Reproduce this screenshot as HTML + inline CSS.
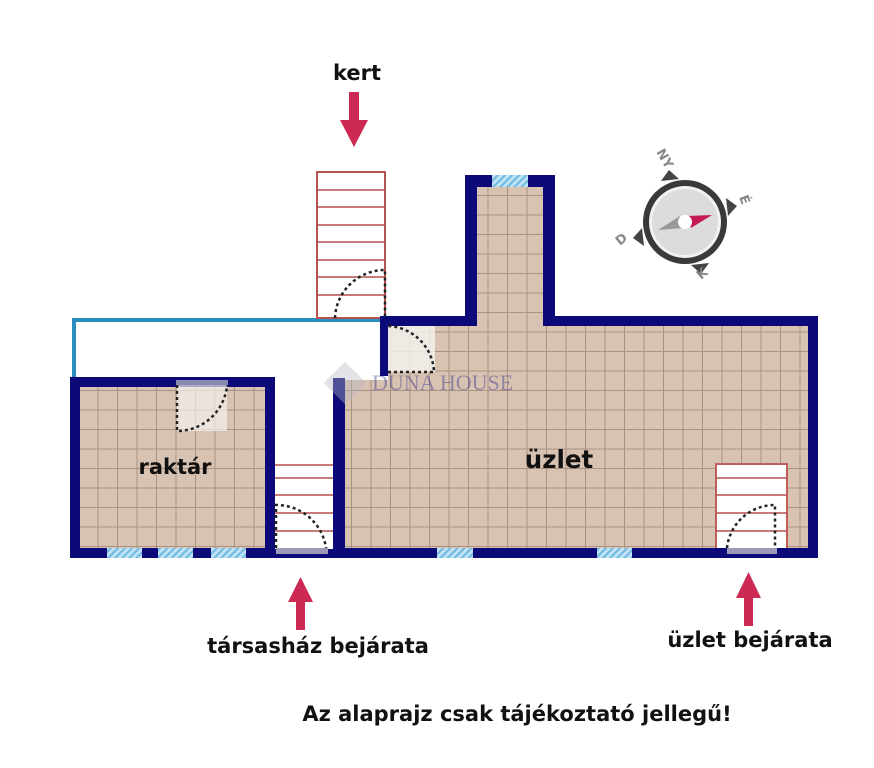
<!DOCTYPE html>
<html><head><meta charset="utf-8"><style>
html,body{margin:0;padding:0;background:#fff;}
svg{display:block;}
text{font-family:"DejaVu Sans","Liberation Sans",sans-serif;font-weight:bold;fill:#111;}
</style></head><body>
<svg width="874" height="768" viewBox="0 0 874 768" xmlns="http://www.w3.org/2000/svg">
<defs>
<pattern id="tile" x="0" y="0" width="19.5" height="19.5" patternUnits="userSpaceOnUse">
<rect width="19.5" height="19.5" fill="#d8c2b1"/>
<path d="M0 0.5H19.5M0.5 0V19.5" stroke="#a99282" stroke-width="1"/>
</pattern>
<pattern id="win" width="5" height="5" patternUnits="userSpaceOnUse" patternTransform="rotate(45)">
<rect width="5" height="5" fill="#bfe3f5"/>
<rect width="2" height="5" fill="#6fb8e0"/>
</pattern>
</defs>

<!-- floors -->
<rect x="80" y="387" width="185" height="162" fill="url(#tile)"/>
<rect x="343" y="380" width="466" height="169" fill="url(#tile)"/>
<rect x="388" y="326" width="421" height="60" fill="url(#tile)"/>
<rect x="477" y="187" width="66" height="140" fill="url(#tile)"/>

<!-- blue line -->
<path d="M74 377V320H383" fill="none" stroke="#2a8fbf" stroke-width="4"/>

<!-- top stair -->
<rect x="317" y="172" width="68" height="146" stroke="#b4524f" stroke-width="2" fill="#fff"/>
<g stroke="#b4524f" stroke-width="1.5">
<path d="M317 190H385M317 207H385M317 225H385M317 242H385M317 260H385M317 277H385M317 295H385"/>
</g>

<!-- corridor stair -->
<rect x="275" y="463" width="58" height="86" fill="#fff"/>
<g stroke="#b4524f" stroke-width="1.5">
<path d="M275 465H333M275 478H333M275 495H333M275 513H333M275 531H333"/>
</g>

<!-- right stair -->
<rect x="716" y="464" width="71" height="85" fill="#fff" stroke="#c0605a" stroke-width="2"/>
<g stroke="#b4524f" stroke-width="1.5">
<path d="M716 478H787M716 495H787M716 513H787M716 531H787"/>
</g>

<!-- walls -->
<g fill="#0b0a78">
<rect x="70" y="377" width="205" height="10" rx="2"/>
<rect x="70" y="377" width="10" height="181"/>
<rect x="265" y="377" width="10" height="181"/>
<rect x="70" y="548" width="205" height="10"/>
<rect x="275" y="549" width="70" height="9"/>
<rect x="333" y="378" width="12" height="180"/>
<rect x="380" y="316" width="8" height="60"/>
<rect x="383" y="316" width="94" height="10"/>
<rect x="543" y="316" width="275" height="10"/>
<rect x="808" y="316" width="10" height="242"/>
<rect x="333" y="548" width="485" height="10"/>
<rect x="465" y="175" width="12" height="151"/>
<rect x="543" y="175" width="12" height="151"/>
<rect x="465" y="175" width="90" height="12"/>
</g>

<!-- windows -->
<g fill="url(#win)">
<rect x="107" y="548" width="35" height="10"/>
<rect x="158" y="548" width="35" height="10"/>
<rect x="211" y="548" width="35" height="10"/>
<rect x="437" y="548" width="36" height="10"/>
<rect x="597" y="548" width="35" height="10"/>
<rect x="492" y="175" width="36" height="12"/>
</g>

<!-- door sills -->
<rect x="176" y="380" width="52" height="5" fill="#8a8ab0"/>
<rect x="177" y="385" width="50" height="46" fill="#f4f1ee" opacity="0.7"/>
<rect x="276" y="548" width="52" height="6" fill="#9a9ab8"/>
<rect x="727" y="548" width="50" height="6" fill="#9a9ab8"/>
<rect x="388" y="326" width="47" height="46" fill="#f6f4f2" opacity="0.8"/>

<!-- door arcs -->
<g fill="none" stroke="#222" stroke-width="2.5" stroke-dasharray="3 3">
<path d="M177 385V431A50 50 0 0 0 227 385"/>
<path d="M276 548V505A50 50 0 0 1 326 548"/>
<path d="M727 548A48 48 0 0 1 775 505V548"/>
<path d="M335 318A50 50 0 0 1 385 270V318"/>
<path d="M388 372H434A48 48 0 0 0 388 326"/>
</g>

<!-- watermark -->
<g opacity="0.4">
<rect x="330" y="368" width="30" height="30" transform="rotate(45 345 383)" fill="#b8b8c4"/>
<text x="372" y="390" font-size="22" style="font-family:'Liberation Serif',serif;font-weight:normal;fill:#2a2a8a">DUNA HOUSE</text>
</g>

<!-- labels -->
<text x="175" y="474" font-size="21" text-anchor="middle">raktár</text>
<text x="559" y="468" font-size="24.5" text-anchor="middle">üzlet</text>
<text x="357" y="80" font-size="21" text-anchor="middle">kert</text>
<text x="318" y="653" font-size="21" text-anchor="middle">társasház bejárata</text>
<text x="750" y="647" font-size="21" text-anchor="middle">üzlet bejárata</text>
<text x="517" y="721" font-size="21" text-anchor="middle">Az alaprajz csak tájékoztató jellegű!</text>

<!-- arrows -->
<g fill="#cc2a55">
<path d="M349 92H359V120H368L354 147L340 120H349Z"/>
<path d="M296 630H305V602H313L300.5 577L288 602H296Z"/>
<path d="M744 626H753V598H761L748.5 572L736 598H744Z"/>
</g>

<!-- compass -->
<g transform="translate(685 222)">
<g fill="#444">
<path d="M-24 -41L-6 -43L-16 -52Z"/>
<path d="M41 -24L43 -6L52 -16Z"/>
<path d="M24 41L6 43L16 52Z"/>
<path d="M-41 24L-43 6L-52 16Z"/>
</g>
<circle r="42" fill="#3a3a3a"/>
<circle r="36" fill="#f2f2f2"/>
<circle r="33" fill="#dcdcdc"/>
<path d="M2 -6L27 -7L6 6Z" fill="#c41a55"/>
<path d="M-2 6L-27 8L-5 -6Z" fill="#999"/>
<circle r="7" fill="#fff"/>
<text x="-29" y="-70" font-size="13" transform="rotate(60 -29 -70)" style="fill:#888">NY</text>
<text x="54" y="-25" font-size="13" transform="rotate(70 54 -25)" style="fill:#888">É</text>
<text x="16" y="58" font-size="13" transform="rotate(-40 16 58)" style="fill:#888">K</text>
<text x="-65" y="24" font-size="13" transform="rotate(-40 -65 24)" style="fill:#888">D</text>
</g>
</svg>
</body></html>
